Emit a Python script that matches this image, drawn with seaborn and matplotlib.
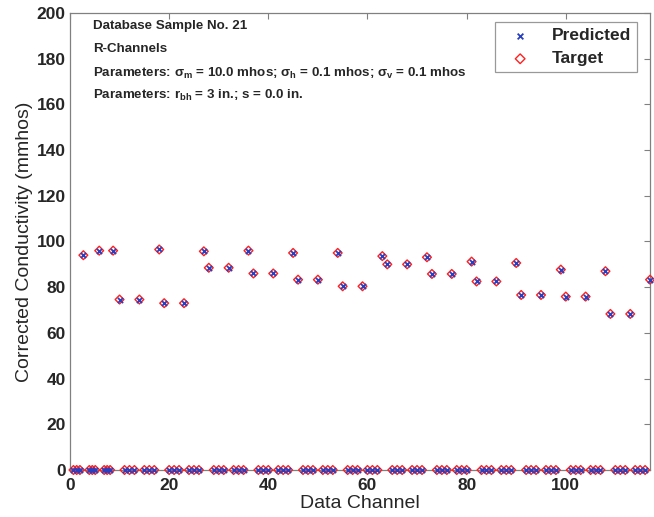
import numpy as np
import pandas as pd
import matplotlib
matplotlib.use("Agg")
import matplotlib.pyplot as plt
import seaborn as sns

# channel positions (first block is denser than the rest)
first_block_x = [0.7, 1.35, 2.0, 2.7, 3.9, 4.5, 5.1, 5.9, 6.9, 7.5, 8.1, 8.7]
first_block_y = [0, 0, 0, 94.0, 0, 0, 0, 96.0, 0, 0, 0, 96.0]

# nonzero readings on integer channels 10..117
nonzero_channels = [10, 14, 18, 19, 23, 27, 28, 32, 36, 37, 41, 45, 46, 50,
                    54, 55, 59, 63, 64, 68, 72, 73, 77, 81, 82, 86, 90, 91,
                    95, 99, 100, 104, 108, 109, 113, 117]
nonzero_values = [74.6, 74.6, 96.5, 73.0, 73.0, 95.7, 88.5, 88.5, 96.0, 86.0,
                  86.0, 95.0, 83.3, 83.3, 95.0, 80.4, 80.4, 93.6, 90.0, 90.0,
                  93.1, 85.8, 85.8, 91.2, 82.5, 82.5, 90.6, 76.6, 76.6, 87.7,
                  75.9, 75.9, 87.0, 68.3, 68.3, 83.3]
channel_range = list(range(10, 118))

annotation_lines = [
    "Database Sample No. 21",
    "R-Channels",
    r"Parameters: $\sigma_\mathbf{m}$ = 10.0 mhos; $\sigma_\mathbf{h}$ = 0.1 mhos; $\sigma_\mathbf{v}$ = 0.1 mhos",
    r"Parameters: r$_\mathbf{bh}$ = 3 in.; s = 0.0 in.",
]

# build the table
lookup = dict(zip(nonzero_channels, nonzero_values))
xs = first_block_x + channel_range
target = first_block_y + [lookup.get(c, 0.0) for c in channel_range]
predicted = list(target)
df = pd.DataFrame({"channel": xs, "target": target, "predicted": predicted})

sns.set_style("white")
plt.rcParams["font.family"] = ["Liberation Sans", "DejaVu Sans"]
plt.rcParams["mathtext.fontset"] = "custom"
plt.rcParams["mathtext.rm"] = "Liberation Sans:bold"
plt.rcParams["mathtext.it"] = "Liberation Sans:bold"
plt.rcParams["mathtext.bf"] = "Liberation Sans:bold"

fig = plt.figure(figsize=(6.54, 5.17), dpi=100)
ax = fig.add_axes([0.107, 0.0909, 0.887, 0.884])

sns.scatterplot(data=df, x="channel", y="target", marker="D", s=20,
                facecolors="none", edgecolor="#ff2020", linewidth=1.0,
                ax=ax, clip_on=False, zorder=3, label="Target")
sns.scatterplot(data=df, x="channel", y="predicted", marker="x", s=14,
                color="#2840c0", linewidth=1.3, ax=ax, clip_on=False,
                zorder=4, label="Predicted")

ax.set_xlim(0, 117)
ax.set_ylim(0, 200)
ax.set_xticks(range(0, 101, 20))
ax.set_yticks(range(0, 201, 20))
ax.tick_params(direction="in", length=4, width=0.8, top=True, right=True,
               labelsize=12.5, color="#808080")
ax.tick_params(axis="x", pad=6)
ax.tick_params(axis="y", pad=3)
for lab in ax.get_xticklabels() + ax.get_yticklabels():
    lab.set_fontweight("bold")
for sp in ax.spines.values():
    sp.set_color("#808080")
    sp.set_linewidth(0.9)

ax.set_xlabel("Data Channel", fontsize=14, labelpad=1)
ax.set_ylabel("Corrected Conductivity (mmhos)", fontsize=14, labelpad=3)

for i, line in enumerate(annotation_lines):
    ax.text(0.04, 0.985 - i * 0.05, line, transform=ax.transAxes,
            fontsize=9.6, fontweight="bold", va="top", ha="left")

handles, labels = ax.get_legend_handles_labels()
leg = ax.legend(handles[::-1], labels[::-1], loc="upper right",
                bbox_to_anchor=(0.977, 0.98), frameon=True, fancybox=False,
                prop={"weight": "bold", "size": 12.5}, handletextpad=0.7,
                borderpad=0.35, labelspacing=0.45, markerscale=1.1,
                borderaxespad=0.0, handlelength=2.2)
leg.get_frame().set_edgecolor("#808080")
leg.get_frame().set_linewidth(0.9)

fig.savefig("out.png", dpi=100)
